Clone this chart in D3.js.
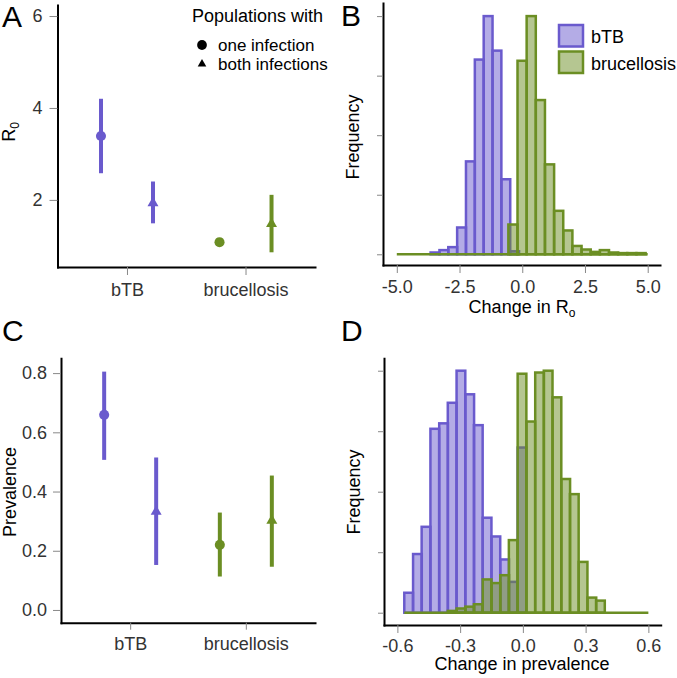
<!DOCTYPE html>
<html><head><meta charset="utf-8">
<script src="https://cdn.jsdelivr.net/npm/d3@7"></script>
<style>
body{margin:0;background:#fff;}
svg{display:block;font-family:"Liberation Sans",Arial,Helvetica,sans-serif;}
</style></head><body>
<svg id="chart" width="677" height="678"></svg>
<script>
// ================= DATA =================
const categories = ["bTB", "brucellosis"];
const legendTitle = "Populations with";
const legendGroups = ["one infection", "both infections"];

// Panel A: R0 (estimate, lower, upper) for populations with one / both infections
const r0One      = [3.39, 1.08];
const r0OneLow   = [2.58, 1.00];
const r0OneHigh  = [4.20, 1.16];
const r0Both     = [1.93, 1.48];
const r0BothLow  = [1.49, 0.86];
const r0BothHigh = [2.40, 2.11];
const r0Ticks    = [2, 4, 6];

// Panel C: prevalence
const prevOne      = [0.659, 0.220];
const prevOneLow   = [0.507, 0.113];
const prevOneHigh  = [0.805, 0.329];
const prevBoth     = [0.332, 0.302];
const prevBothLow  = [0.152, 0.146];
const prevBothHigh = [0.515, 0.454];
const prevTicks    = [0, 0.2, 0.4, 0.6, 0.8];

// Panel B: histograms of change in R0 (bin left edges, bin width, relative frequency)
const r0ChangeTicks = [-5, -2.5, 0, 2.5, 5];
const r0ChangeRange = [-5, 5];
const btbR0BinStart = [-3.653, -3.300, -2.948, -2.595, -2.243, -1.890, -1.537, -1.185, -0.832, -0.480];
const btbR0BinWidth = 0.3526;
const btbR0Freq     = [0.03, 0.07, 0.12, 0.45, 1.56, 3.27, 4.00, 3.42, 1.26, 0.05];
const bruR0BinStart = [-0.554, -0.189, 0.175, 0.540, 0.905, 1.269, 1.634, 1.999, 2.364, 2.728, 3.093, 3.458, 3.822, 4.187, 4.552];
const bruR0BinWidth = 0.3647;
const bruR0Freq     = [0.50, 3.25, 4.00, 2.59, 1.51, 0.73, 0.40, 0.14, 0.08, 0.04, 0.07, 0.03, 0.02, 0.02, 0.02];

// Panel D: histograms of change in prevalence
const prevChangeTicks = [-0.6, -0.3, 0, 0.3, 0.6];
const prevChangeRange = [-0.567, 0.6];
const btbPrevBinStart = [-0.567, -0.525, -0.484, -0.442, -0.400, -0.359, -0.317, -0.275, -0.234, -0.192, -0.150, -0.108, -0.067, -0.025];
const btbPrevBinWidth = 0.0417;
const btbPrevFreq     = [0.33, 0.97, 1.42, 3.04, 3.13, 3.47, 4.00, 3.61, 3.10, 1.57, 1.26, 0.88, 0.51, 2.73];
const bruPrevBinStart = [-0.359, -0.317, -0.275, -0.234, -0.192, -0.150, -0.108, -0.067, -0.025, 0.017, 0.059, 0.100, 0.142, 0.184, 0.225, 0.267, 0.309, 0.350];
const bruPrevBinWidth = 0.0417;
const bruPrevFreq     = [0.03, 0.07, 0.10, 0.14, 0.55, 0.49, 0.62, 1.20, 3.95, 3.16, 3.97, 4.00, 3.56, 2.21, 1.96, 0.84, 0.25, 0.20];

const freqTicks = [0, 1, 2, 3, 4];
const histLegend = ["bTB", "brucellosis"];

// ================= STYLE =================
const COL = ["#6A5ACD", "#6B8E23"];
const FILL = ["rgba(106,90,205,0.5)", "rgba(107,142,35,0.5)"];
const FONT = 18;
const svg = d3.select("#chart");

function styleAxis(a) {
  a.attr("font-size", null).attr("font-family", null);
  a.select(".domain").attr("stroke", "#000").attr("stroke-width", 2).attr("stroke-linecap", "square");
  a.selectAll(".tick line").attr("stroke", "#888").attr("stroke-width", 1);
  a.selectAll(".tick text").attr("fill", "#333").attr("font-size", FONT);
}
const fmtDash = f => v => d3.format(f)(v).replace("\u2212", "-");

function panelLetter(t, x, y) {
  svg.append("text").attr("x", x).attr("y", y).attr("font-size", 30).attr("fill", "#000").text(t);
}

function pointPanel(cfg) {
  const g = svg.append("g");
  const x = d3.scalePoint().domain(categories).range(cfg.xRange).padding(cfg.pad);
  const y = d3.scaleLinear().domain(cfg.yDomain).range(cfg.yRange);
  const ax = g.append("g").attr("transform", `translate(0,${cfg.yRange[0]})`)
    .call(d3.axisBottom(x).tickSize(cfg.xTickSize).tickSizeOuter(0).tickPadding(cfg.xTickPad));
  const ay = g.append("g").attr("transform", `translate(${cfg.xRange[0]},0)`)
    .call(d3.axisLeft(y).tickValues(cfg.ticks).tickFormat(cfg.fmt).tickSize(8).tickSizeOuter(0).tickPadding(cfg.yTickPad));
  styleAxis(ax); styleAxis(ay);
  const series = [
    { mid: cfg.one, lo: cfg.oneLo, hi: cfg.oneHi, dx: -26, sym: d3.symbolCircle, size: 80 },
    { mid: cfg.both, lo: cfg.bothLo, hi: cfg.bothHi, dx: 26, sym: d3.symbolTriangle, size: 52 }
  ];
  series.forEach(s => {
    categories.forEach((c, i) => {
      const cx = x(c) + s.dx;
      g.append("line").attr("x1", cx).attr("x2", cx)
        .attr("y1", y(s.lo[i])).attr("y2", y(s.hi[i]))
        .attr("stroke", COL[i]).attr("stroke-width", 4);
      g.append("path").attr("d", d3.symbol(s.sym, s.size)())
        .attr("transform", `translate(${cx},${y(s.mid[i])})`).attr("fill", COL[i]);
    });
  });
  const t = g.append("text").attr("transform", `translate(${cfg.titleX},${cfg.titleY}) rotate(-90)`)
    .attr("text-anchor", "middle").attr("font-size", FONT).attr("fill", "#000");
  t.append("tspan").text(cfg.title);
  if (cfg.sub) t.append("tspan").attr("font-size", 12).attr("dy", 4).text(cfg.sub);
  return g;
}

function histPanel(cfg) {
  const g = svg.append("g");
  const x = d3.scaleLinear().domain(cfg.xDomain).range(cfg.xRange);
  const y = d3.scaleLinear().domain(cfg.yDomain).range(cfg.yRange);
  const ax = g.append("g").attr("transform", `translate(0,${cfg.yRange[0]})`)
    .call(d3.axisBottom(x).tickValues(cfg.xTicks).tickFormat(fmtDash(".1f")).tickSize(8).tickSizeOuter(0).tickPadding(cfg.xTickPad));
  const ay = g.append("g").attr("transform", `translate(${cfg.xRange[0]},0)`)
    .call(d3.axisLeft(y).tickValues(freqTicks).tickFormat(() => "").tickSize(6).tickSizeOuter(0));
  styleAxis(ax); styleAxis(ay);
  cfg.series.forEach((s, k) => {
    g.append("g").selectAll("rect").data(s.freq).join("rect")
      .attr("x", (d, i) => x(s.start[i]))
      .attr("width", (d, i) => x(s.start[i] + s.width) - x(s.start[i]))
      .attr("y", d => y(d))
      .attr("height", d => y(0) - y(d))
      .attr("fill", FILL[k]).attr("stroke", COL[k]).attr("stroke-width", 2.5);
  });
  g.append("line").attr("x1", x(cfg.base[0])).attr("x2", x(cfg.base[1]))
    .attr("y1", y(0)).attr("y2", y(0)).attr("stroke", COL[1]).attr("stroke-width", 2.5);
  g.append("text").attr("transform", `translate(${cfg.yTitleX},${cfg.yTitleY}) rotate(-90)`)
    .attr("text-anchor", "middle").attr("font-size", FONT).attr("fill", "#000").text("Frequency");
  const t = g.append("text").attr("x", cfg.xTitleX).attr("y", cfg.xTitleY)
    .attr("text-anchor", "middle").attr("font-size", FONT).attr("fill", "#000");
  t.append("tspan").text(cfg.xTitle);
  if (cfg.xSub) t.append("tspan").attr("font-size", 12).attr("dy", 4).text(cfg.xSub);
  return g;
}

// ================= PANEL A =================
pointPanel({
  xRange: [57.5, 315], pad: 0.586, yDomain: [0.54, 6.24], yRange: [267, 5],
  ticks: r0Ticks, fmt: d3.format("d"), xTickSize: 8, xTickPad: 8, yTickPad: 7,
  one: r0One, oneLo: r0OneLow, oneHi: r0OneHigh,
  both: r0Both, bothLo: r0BothLow, bothHi: r0BothHigh,
  title: "R", sub: "0", titleX: 15, titleY: 132
});
svg.append("text").attr("x", 192).attr("y", 22).attr("font-size", FONT).attr("fill", "#000").text(legendTitle);
svg.append("path").attr("d", d3.symbol(d3.symbolCircle, 75)()).attr("transform", "translate(202,45)").attr("fill", "#000");
svg.append("path").attr("d", d3.symbol(d3.symbolTriangle, 32)()).attr("transform", "translate(202,64)").attr("fill", "#000");
svg.append("text").attr("x", 218).attr("y", 51).attr("font-size", 17).attr("fill", "#000").text(legendGroups[0]);
svg.append("text").attr("x", 218).attr("y", 70).attr("font-size", 17).attr("fill", "#000").text(legendGroups[1]);

// ================= PANEL C =================
pointPanel({
  xRange: [61, 315], pad: 0.598, yDomain: [-0.043, 0.85], yRange: [622.7, 358.3],
  ticks: prevTicks, fmt: d3.format(".1f"), xTickSize: 7, xTickPad: 8, yTickPad: 6,
  one: prevOne, oneLo: prevOneLow, oneHi: prevOneHigh,
  both: prevBoth, bothLo: prevBothLow, bothHi: prevBothHigh,
  title: "Prevalence", titleX: 16, titleY: 492
});

// ================= PANEL B =================
histPanel({
  xDomain: [-5.55, 5.49], xRange: [383, 660], yDomain: [-0.18, 4.22], yRange: [265, 3],
  xTicks: r0ChangeTicks, xTickPad: 7, base: r0ChangeRange,
  series: [
    { start: btbR0BinStart, width: btbR0BinWidth, freq: btbR0Freq },
    { start: bruR0BinStart, width: bruR0BinWidth, freq: bruR0Freq }
  ],
  yTitleX: 359, yTitleY: 137, xTitle: "Change in R", xSub: "o", xTitleX: 522, xTitleY: 313
});
histLegend.forEach((lab, i) => {
  svg.append("rect").attr("x", 559).attr("y", 25 + i * 26.5).attr("width", 24).attr("height", 21.5)
    .attr("fill", FILL[i]).attr("stroke", COL[i]).attr("stroke-width", 2.5);
  svg.append("text").attr("x", 591).attr("y", 43 + i * 27).attr("font-size", FONT).attr("fill", "#000").text(lab);
});

// ================= PANEL D =================
histPanel({
  xDomain: [-0.664, 0.659], xRange: [384, 660.7], yDomain: [-0.203, 4.205], yRange: [625, 358.3],
  xTicks: prevChangeTicks, xTickPad: 6, base: prevChangeRange,
  series: [
    { start: btbPrevBinStart, width: btbPrevBinWidth, freq: btbPrevFreq },
    { start: bruPrevBinStart, width: bruPrevBinWidth, freq: bruPrevFreq }
  ],
  yTitleX: 360, yTitleY: 492, xTitle: "Change in prevalence", xTitleX: 522, xTitleY: 670
});

panelLetter("A", 2, 26.5);
panelLetter("B", 341, 26);
panelLetter("C", 2, 341);
panelLetter("D", 341, 341);
</script>
</body></html>
